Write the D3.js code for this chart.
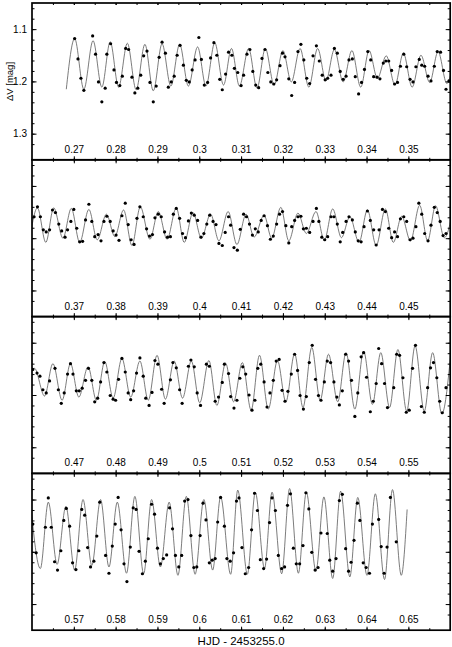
<!DOCTYPE html>
<html>
<head>
<meta charset="utf-8">
<script src="https://cdnjs.cloudflare.com/ajax/libs/d3/7.8.5/d3.min.js"></script>
<style>
  body { margin: 0; background: #fff; }
  svg { display: block; }
</style>
</head>
<body>
<script>
'use strict';

// each panel shows 0.1 d of HJD - 2453255.0
const panelStarts = [0.26, 0.36, 0.46, 0.56];

const xTickLabels = [
  [0.27, 0.28, 0.29, 0.30, 0.31, 0.32, 0.33, 0.34, 0.35],
  [0.37, 0.38, 0.39, 0.40, 0.41, 0.42, 0.43, 0.44, 0.45],
  [0.47, 0.48, 0.49, 0.50, 0.51, 0.52, 0.53, 0.54, 0.55],
  [0.57, 0.58, 0.59, 0.60, 0.61, 0.62, 0.63, 0.64, 0.65]
];
const yTickLabels = [1.1, 1.2, 1.3];

const curve1 = [[0.2682,1.215],[0.2702,1.118],[0.2724,1.215],[0.2746,1.122],[0.2767,1.211],[0.2787,1.124],[0.2807,1.211],[0.2828,1.127],[0.2849,1.216],[0.2870,1.129],[0.2890,1.218],[0.2911,1.128],[0.2932,1.209],[0.2953,1.129],[0.2974,1.209],[0.2996,1.134],[0.3016,1.209],[0.3037,1.126],[0.3058,1.207],[0.3077,1.137],[0.3096,1.209],[0.3118,1.137],[0.3138,1.213],[0.3158,1.137],[0.3179,1.207],[0.3200,1.141],[0.3220,1.201],[0.3241,1.137],[0.3262,1.211],[0.3283,1.137],[0.3303,1.199],[0.3323,1.139],[0.3344,1.201],[0.3365,1.141],[0.3386,1.211],[0.3406,1.141],[0.3426,1.194],[0.3447,1.151],[0.3468,1.207],[0.3488,1.146],[0.3509,1.211],[0.3530,1.150],[0.3551,1.202],[0.3571,1.143],[0.3592,1.204],[0.3612,1.140]];
const curve2 = [[0.3594,1.205],[0.3613,1.142],[0.3633,1.208],[0.3652,1.142],[0.3674,1.200],[0.3694,1.143],[0.3714,1.208],[0.3736,1.145],[0.3756,1.203],[0.3778,1.154],[0.3798,1.197],[0.3819,1.146],[0.3839,1.214],[0.3859,1.140],[0.3882,1.202],[0.3902,1.149],[0.3923,1.202],[0.3945,1.142],[0.3964,1.208],[0.3985,1.151],[0.4005,1.200],[0.4027,1.154],[0.4047,1.205],[0.4069,1.149],[0.4090,1.212],[0.4112,1.154],[0.4131,1.198],[0.4155,1.156],[0.4173,1.200],[0.4195,1.141],[0.4214,1.205],[0.4236,1.152],[0.4256,1.191],[0.4279,1.149],[0.4299,1.204],[0.4319,1.144],[0.4340,1.199],[0.4360,1.159],[0.4382,1.208],[0.4402,1.146],[0.4423,1.214],[0.4445,1.144],[0.4464,1.208],[0.4484,1.158],[0.4505,1.205],[0.4527,1.137],[0.4546,1.205],[0.4565,1.138],[0.4586,1.199],[0.4607,1.145]];
const curve3 = [[0.4585,1.195],[0.4606,1.149],[0.4630,1.202],[0.4650,1.140],[0.4672,1.210],[0.4692,1.140],[0.4712,1.204],[0.4734,1.146],[0.4754,1.210],[0.4774,1.136],[0.4794,1.206],[0.4815,1.130],[0.4836,1.204],[0.4858,1.135],[0.4878,1.210],[0.4899,1.124],[0.4919,1.208],[0.4940,1.135],[0.4960,1.206],[0.4981,1.135],[0.5001,1.215],[0.5023,1.134],[0.5042,1.220],[0.5063,1.139],[0.5082,1.213],[0.5103,1.138],[0.5124,1.229],[0.5144,1.124],[0.5165,1.227],[0.5187,1.134],[0.5207,1.213],[0.5228,1.121],[0.5248,1.224],[0.5269,1.109],[0.5289,1.210],[0.5309,1.122],[0.5331,1.213],[0.5351,1.119],[0.5372,1.227],[0.5393,1.116],[0.5414,1.218],[0.5434,1.119],[0.5455,1.224],[0.5475,1.113],[0.5496,1.231],[0.5516,1.106],[0.5538,1.231],[0.5558,1.119],[0.5580,1.236],[0.5601,1.125]];
const curve4 = [[0.5596,1.102],[0.5620,1.232],[0.5639,1.105],[0.5660,1.224],[0.5681,1.113],[0.5702,1.235],[0.5722,1.100],[0.5743,1.226],[0.5764,1.100],[0.5784,1.229],[0.5804,1.105],[0.5826,1.241],[0.5846,1.094],[0.5867,1.242],[0.5886,1.100],[0.5907,1.229],[0.5928,1.105],[0.5949,1.245],[0.5969,1.094],[0.5990,1.243],[0.6011,1.100],[0.6032,1.235],[0.6051,1.095],[0.6075,1.243],[0.6092,1.082],[0.6115,1.243],[0.6134,1.086],[0.6156,1.232],[0.6174,1.086],[0.6197,1.242],[0.6216,1.079],[0.6237,1.241],[0.6256,1.086],[0.6279,1.237],[0.6298,1.095],[0.6319,1.251],[0.6338,1.084],[0.6360,1.248],[0.6379,1.096],[0.6401,1.245],[0.6421,1.089],[0.6443,1.253],[0.6462,1.081],[0.6483,1.245],[0.6497,1.119]];

// observations: [time, dV]
const dots1 = [[0.2702,1.118],[0.2710,1.157],[0.2717,1.194],[0.2724,1.217],[0.2745,1.113],[0.2752,1.148],[0.2759,1.201],[0.2767,1.239],[0.2775,1.213],[0.2779,1.148],[0.2788,1.128],[0.2796,1.178],[0.2802,1.202],[0.2810,1.208],[0.2816,1.190],[0.2824,1.137],[0.2831,1.139],[0.2839,1.192],[0.2846,1.222],[0.2853,1.213],[0.2860,1.188],[0.2867,1.151],[0.2875,1.142],[0.2882,1.202],[0.2890,1.239],[0.2897,1.209],[0.2904,1.154],[0.2911,1.125],[0.2919,1.146],[0.2926,1.211],[0.2933,1.201],[0.2940,1.190],[0.2947,1.150],[0.2954,1.131],[0.2962,1.169],[0.2969,1.198],[0.2976,1.201],[0.2983,1.178],[0.2990,1.159],[0.2999,1.116],[0.3005,1.158],[0.3012,1.207],[0.3020,1.202],[0.3027,1.155],[0.3035,1.126],[0.3042,1.150],[0.3049,1.196],[0.3055,1.216],[0.3063,1.186],[0.3070,1.144],[0.3078,1.150],[0.3084,1.175],[0.3092,1.183],[0.3100,1.208],[0.3106,1.188],[0.3114,1.148],[0.3121,1.139],[0.3128,1.181],[0.3135,1.207],[0.3142,1.212],[0.3150,1.156],[0.3157,1.139],[0.3164,1.183],[0.3171,1.201],[0.3178,1.205],[0.3185,1.197],[0.3193,1.170],[0.3199,1.146],[0.3205,1.153],[0.3214,1.195],[0.3221,1.227],[0.3228,1.202],[0.3236,1.143],[0.3243,1.129],[0.3250,1.159],[0.3257,1.194],[0.3264,1.204],[0.3272,1.151],[0.3280,1.132],[0.3287,1.161],[0.3294,1.188],[0.3301,1.197],[0.3307,1.194],[0.3315,1.188],[0.3323,1.137],[0.3330,1.146],[0.3337,1.181],[0.3344,1.196],[0.3351,1.190],[0.3358,1.159],[0.3366,1.157],[0.3373,1.191],[0.3381,1.224],[0.3388,1.202],[0.3395,1.177],[0.3403,1.143],[0.3410,1.159],[0.3417,1.191],[0.3425,1.192],[0.3432,1.195],[0.3440,1.165],[0.3446,1.161],[0.3453,1.161],[0.3460,1.179],[0.3467,1.205],[0.3474,1.202],[0.3481,1.171],[0.3489,1.148],[0.3496,1.172],[0.3504,1.196],[0.3511,1.201],[0.3518,1.172],[0.3526,1.158],[0.3532,1.169],[0.3539,1.171],[0.3547,1.190],[0.3554,1.199],[0.3562,1.171],[0.3569,1.143],[0.3577,1.144],[0.3584,1.179],[0.3590,1.215],[0.3597,1.199]];
const dots2 = [[0.3605,1.159],[0.3613,1.140],[0.3620,1.159],[0.3627,1.184],[0.3634,1.188],[0.3642,1.184],[0.3649,1.146],[0.3656,1.151],[0.3664,1.173],[0.3671,1.186],[0.3679,1.198],[0.3685,1.184],[0.3693,1.168],[0.3700,1.145],[0.3707,1.181],[0.3714,1.207],[0.3721,1.206],[0.3728,1.165],[0.3736,1.135],[0.3743,1.168],[0.3750,1.197],[0.3758,1.193],[0.3765,1.205],[0.3772,1.168],[0.3779,1.158],[0.3787,1.168],[0.3794,1.186],[0.3801,1.194],[0.3808,1.204],[0.3815,1.157],[0.3823,1.133],[0.3830,1.174],[0.3837,1.203],[0.3844,1.212],[0.3851,1.162],[0.3858,1.140],[0.3866,1.159],[0.3874,1.182],[0.3881,1.196],[0.3888,1.193],[0.3894,1.161],[0.3902,1.154],[0.3909,1.159],[0.3917,1.188],[0.3924,1.198],[0.3931,1.197],[0.3938,1.154],[0.3945,1.143],[0.3953,1.162],[0.3960,1.191],[0.3967,1.199],[0.3974,1.167],[0.3981,1.152],[0.3988,1.156],[0.3996,1.166],[0.4004,1.198],[0.4011,1.191],[0.4018,1.173],[0.4025,1.156],[0.4033,1.168],[0.4040,1.174],[0.4047,1.210],[0.4055,1.214],[0.4062,1.189],[0.4070,1.159],[0.4075,1.175],[0.4083,1.218],[0.4091,1.223],[0.4098,1.183],[0.4106,1.154],[0.4113,1.159],[0.4120,1.173],[0.4127,1.194],[0.4134,1.182],[0.4141,1.188],[0.4148,1.166],[0.4155,1.157],[0.4163,1.176],[0.4170,1.202],[0.4177,1.196],[0.4185,1.173],[0.4192,1.154],[0.4199,1.149],[0.4207,1.176],[0.4214,1.209],[0.4221,1.178],[0.4228,1.166],[0.4236,1.159],[0.4243,1.158],[0.4249,1.182],[0.4256,1.181],[0.4264,1.189],[0.4272,1.168],[0.4280,1.143],[0.4286,1.168],[0.4293,1.198],[0.4300,1.203],[0.4307,1.197],[0.4315,1.159],[0.4322,1.159],[0.4330,1.173],[0.4337,1.207],[0.4343,1.189],[0.4351,1.168],[0.4358,1.159],[0.4366,1.165],[0.4373,1.188],[0.4380,1.205],[0.4387,1.207],[0.4394,1.178],[0.4402,1.148],[0.4409,1.166],[0.4417,1.184],[0.4423,1.213],[0.4430,1.184],[0.4438,1.145],[0.4445,1.149],[0.4453,1.181],[0.4460,1.199],[0.4467,1.188],[0.4474,1.197],[0.4481,1.163],[0.4489,1.159],[0.4496,1.168],[0.4504,1.203],[0.4511,1.200],[0.4518,1.178],[0.4525,1.133],[0.4532,1.154],[0.4539,1.191],[0.4547,1.205],[0.4554,1.175],[0.4562,1.141],[0.4569,1.151],[0.4576,1.168],[0.4583,1.195],[0.4590,1.191]];
const dots3 = [[0.4602,1.151],[0.4612,1.158],[0.4619,1.164],[0.4626,1.190],[0.4634,1.196],[0.4642,1.173],[0.4655,1.149],[0.4663,1.190],[0.4670,1.216],[0.4677,1.196],[0.4685,1.160],[0.4692,1.140],[0.4698,1.160],[0.4706,1.192],[0.4713,1.192],[0.4720,1.187],[0.4728,1.172],[0.4735,1.149],[0.4743,1.172],[0.4750,1.213],[0.4757,1.206],[0.4764,1.175],[0.4772,1.138],[0.4779,1.156],[0.4787,1.201],[0.4794,1.208],[0.4800,1.210],[0.4807,1.170],[0.4815,1.130],[0.4823,1.156],[0.4830,1.196],[0.4836,1.209],[0.4843,1.192],[0.4850,1.158],[0.4858,1.129],[0.4866,1.164],[0.4872,1.206],[0.4880,1.220],[0.4887,1.195],[0.4894,1.134],[0.4901,1.141],[0.4910,1.189],[0.4916,1.216],[0.4931,1.171],[0.4937,1.138],[0.4945,1.148],[0.4953,1.190],[0.4959,1.216],[0.4974,1.145],[0.4980,1.133],[0.4988,1.146],[0.4995,1.196],[0.5003,1.220],[0.5017,1.141],[0.5024,1.145],[0.5038,1.212],[0.5046,1.204],[0.5055,1.176],[0.5060,1.141],[0.5070,1.159],[0.5075,1.203],[0.5083,1.225],[0.5090,1.210],[0.5097,1.168],[0.5104,1.146],[0.5111,1.160],[0.5119,1.200],[0.5126,1.229],[0.5133,1.210],[0.5140,1.149],[0.5147,1.141],[0.5155,1.175],[0.5162,1.223],[0.5169,1.196],[0.5177,1.172],[0.5184,1.135],[0.5191,1.132],[0.5198,1.191],[0.5205,1.212],[0.5212,1.193],[0.5220,1.160],[0.5228,1.122],[0.5235,1.153],[0.5241,1.201],[0.5249,1.227],[0.5256,1.203],[0.5263,1.138],[0.5270,1.105],[0.5278,1.170],[0.5285,1.201],[0.5291,1.210],[0.5299,1.175],[0.5306,1.135],[0.5314,1.138],[0.5322,1.175],[0.5329,1.204],[0.5335,1.219],[0.5342,1.192],[0.5350,1.122],[0.5357,1.135],[0.5364,1.172],[0.5372,1.241],[0.5379,1.196],[0.5387,1.127],[0.5393,1.119],[0.5400,1.166],[0.5409,1.232],[0.5416,1.212],[0.5423,1.178],[0.5429,1.111],[0.5436,1.140],[0.5443,1.178],[0.5450,1.224],[0.5465,1.186],[0.5472,1.122],[0.5479,1.124],[0.5487,1.167],[0.5495,1.233],[0.5502,1.229],[0.5510,1.149],[0.5517,1.105],[0.5531,1.222],[0.5538,1.233],[0.5546,1.186],[0.5553,1.148],[0.5560,1.138],[0.5568,1.167],[0.5575,1.212],[0.5581,1.234],[0.5590,1.186]];
const dots4 = [[0.5602,1.147],[0.5610,1.202],[0.5632,1.153],[0.5639,1.097],[0.5646,1.153],[0.5654,1.219],[0.5661,1.235],[0.5669,1.198],[0.5676,1.140],[0.5682,1.117],[0.5690,1.151],[0.5697,1.221],[0.5705,1.234],[0.5712,1.198],[0.5719,1.119],[0.5726,1.130],[0.5733,1.192],[0.5740,1.229],[0.5748,1.218],[0.5755,1.170],[0.5762,1.105],[0.5776,1.207],[0.5784,1.241],[0.5792,1.189],[0.5799,1.147],[0.5806,1.096],[0.5813,1.158],[0.5820,1.223],[0.5827,1.257],[0.5835,1.191],[0.5842,1.116],[0.5849,1.119],[0.5856,1.199],[0.5864,1.242],[0.5871,1.218],[0.5878,1.175],[0.5886,1.109],[0.5893,1.128],[0.5900,1.193],[0.5907,1.223],[0.5914,1.213],[0.5922,1.206],[0.5929,1.116],[0.5936,1.156],[0.5943,1.207],[0.5951,1.229],[0.5958,1.207],[0.5965,1.103],[0.5973,1.100],[0.5980,1.169],[0.5987,1.230],[0.5994,1.229],[0.6002,1.169],[0.6009,1.107],[0.6016,1.139],[0.6024,1.221],[0.6031,1.216],[0.6038,1.213],[0.6044,1.143],[0.6051,1.096],[0.6060,1.151],[0.6066,1.213],[0.6074,1.218],[0.6082,1.202],[0.6089,1.103],[0.6095,1.097],[0.6102,1.192],[0.6110,1.242],[0.6118,1.230],[0.6125,1.158],[0.6132,1.088],[0.6139,1.121],[0.6146,1.215],[0.6154,1.232],[0.6161,1.214],[0.6168,1.144],[0.6174,1.097],[0.6182,1.121],[0.6189,1.207],[0.6197,1.232],[0.6204,1.229],[0.6211,1.111],[0.6218,1.089],[0.6225,1.193],[0.6232,1.223],[0.6240,1.223],[0.6248,1.188],[0.6255,1.087],[0.6262,1.118],[0.6269,1.201],[0.6277,1.235],[0.6284,1.230],[0.6291,1.164],[0.6306,1.165],[0.6312,1.216],[0.6319,1.237],[0.6327,1.213],[0.6335,1.102],[0.6342,1.090],[0.6350,1.194],[0.6357,1.237],[0.6363,1.220],[0.6370,1.178],[0.6378,1.107],[0.6384,1.140],[0.6392,1.221],[0.6399,1.230],[0.6407,1.241],[0.6414,1.147],[0.6429,1.138],[0.6435,1.190],[0.6442,1.241],[0.6449,1.191],[0.6457,1.096],[0.6471,1.181]];

const curves = [curve1, curve2, curve3, curve4];
const dots = [dots1, dots2, dots3, dots4];

(function() {
  const width = 452;
  const height = 647;
  const left = 32;
  const right = 450.2;
  const top = 3;
  const panelH = 156.8;
  const font = '"Liberation Sans", Arial, Helvetica, sans-serif';

  const svg = d3.select('body')
    .append('svg')
    .attr('width', width)
    .attr('height', height);

  svg.append('rect')
    .attr('width', width)
    .attr('height', height)
    .attr('fill', '#fff');

  panelStarts.forEach(function(t0, i) {
    drawPanel(i, t0);
  });

  // axis title at the bottom
  svg.append('text')
    .attr('x', (left + right) / 2)
    .attr('y', 645)
    .attr('text-anchor', 'middle')
    .style('font-family', font)
    .style('font-size', '11.5px')
    .text('HJD - 2453255.0');

  // y title, first panel only
  svg.append('text')
    .attr('transform', 'translate(12.6,' + (top + 78.5) + ')rotate(-90)')
    .attr('text-anchor', 'middle')
    .style('font-family', font)
    .style('font-size', '9.5px')
    .text('\u0394V [mag]');

  function drawPanel(i, t0) {
    const y0 = top + i * panelH;
    const y1 = y0 + panelH;

    let xScale = d3.scaleLinear()
      .domain([t0, t0 + 0.1])
      .range([left, right]);

    // magnitudes grow downwards
    let yScale = d3.scaleLinear()
      .domain([1.05, 1.35])
      .range([y0, y1]);

    let g = svg.append('g');

    g.append('clipPath')
      .attr('id', 'clip' + i)
      .append('rect')
      .attr('x', left)
      .attr('y', y0)
      .attr('width', right - left)
      .attr('height', panelH);

    let plot = g.append('g').attr('clip-path', 'url(#clip' + i + ')');

    let line = d3.line()
      .x(function(d) { return xScale(d[0]); })
      .y(function(d) { return yScale(d[1]); })
      .curve(d3.curveMonotoneX);

    plot.append('path')
      .datum(curves[i])
      .attr('d', line)
      .attr('fill', 'none')
      .attr('stroke', '#5a5a5a')
      .attr('stroke-width', 0.8);

    plot.selectAll('.dot')
      .data(dots[i])
      .enter()
      .append('circle')
      .attr('class', 'dot')
      .attr('cx', function(d) { return xScale(d[0]); })
      .attr('cy', function(d) { return yScale(d[1]); })
      .attr('r', 1.6)
      .attr('fill', '#000');

    // ticks, all pointing inwards
    let minorX = d3.range(1, 20).map(function(k) { return t0 + k * 0.005; });
    let minorY = d3.range(1, 15).map(function(k) { return 1.05 + k * 0.02 - 0.01; });

    addAxis(d3.axisBottom(xScale).tickValues(minorX).tickSize(2).tickFormat(''), 0, y0);
    addAxis(d3.axisBottom(xScale).tickValues(xTickLabels[i]).tickSize(i === 0 ? 2 : 3.5).tickFormat(''), 0, y0);
    addAxis(d3.axisTop(xScale).tickValues(minorX).tickSize(2).tickFormat(''), 0, y1);
    let bottom = addAxis(d3.axisTop(xScale).tickValues(xTickLabels[i]).tickSize(3.5)
      .tickPadding(3.5).tickFormat(d3.format('.2~f')), 0, y1);
    bottom.selectAll('text')
      .style('font-family', font)
      .style('font-size', '10px');

    addAxis(d3.axisRight(yScale).tickValues(minorY).tickSize(2.5).tickFormat(''), left, 0);
    addAxis(d3.axisRight(yScale).tickValues(yTickLabels).tickSize(4.5).tickFormat(''), left, 0);
    addAxis(d3.axisLeft(yScale).tickValues(minorY).tickSize(2.5).tickFormat(''), right, 0);
    addAxis(d3.axisLeft(yScale).tickValues(yTickLabels).tickSize(4.5).tickFormat(''), right, 0);

    if (i === 0) {
      let labels = addAxis(d3.axisLeft(yScale).tickValues(yTickLabels).tickSize(0)
        .tickPadding(5).tickFormat(d3.format('.1f')), left, 0);
      labels.selectAll('text')
        .style('font-family', font)
        .style('font-size', '10px');
    }

    g.append('rect')
      .attr('x', left)
      .attr('y', y0)
      .attr('width', right - left)
      .attr('height', panelH)
      .attr('fill', 'none')
      .attr('stroke', '#000')
      .attr('stroke-width', 1.7);
  }

  function addAxis(axis, tx, ty) {
    let a = svg.append('g')
      .attr('transform', 'translate(' + tx + ',' + ty + ')')
      .call(axis);
    a.select('.domain').remove();
    a.selectAll('line').attr('stroke', '#000').attr('stroke-width', 1);
    return a;
  }
})();
</script>
</body>
</html>
